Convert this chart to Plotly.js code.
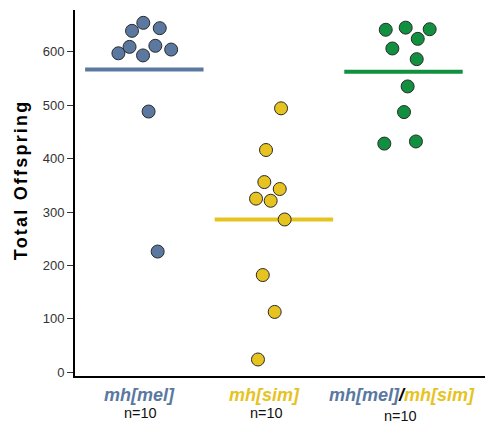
<!DOCTYPE html>
<html>
<head>
<meta charset="utf-8">
<script src="https://cdn.plot.ly/plotly-3.0.1.min.js"></script>
<style>
html,body{margin:0;padding:0;background:#fff;}
#chart{width:485px;height:424px;}
</style>
</head>
<body>
<div id="chart"></div>
<script>
// ---- data ----
const categories = ["mh[mel]", "mh[sim]", "mh[mel]/mh[sim]"];
const countLabels = ["n=10", "n=10", "n=10"];
const melValues = [654, 639, 644, 597, 609, 593, 611, 604, 488, 226];
const simValues = [494, 416, 356, 343, 325, 321, 286, 182, 113, 24];
const hybValues = [641, 645, 642, 624, 606, 586, 535, 487, 428, 432];
// horizontal jitter of each point (category units)
const melJitter = [-0.008, -0.095, 0.119, -0.200, -0.114, -0.010, 0.085, 0.207, 0.033, 0.103];
const simJitter = [0.055, -0.061, -0.074, 0.045, -0.138, -0.025, 0.083, -0.086, 0.006, -0.123];
const hybJitter = [-0.137, 0.017, 0.202, 0.110, -0.086, 0.102, 0.032, 0.004, -0.148, 0.096];
const yTicks = [0, 100, 200, 300, 400, 500, 600];

// ---- styles ----
const BLUE = "#5a78a0", YELLOW = "#e6c31f", GREEN = "#11913f";
const colors = [BLUE, YELLOW, GREEN];
const groups = [melValues, simValues, hybValues];
const jitters = [melJitter, simJitter, hybJitter];
const halfW = 0.457;
const mean = a => a.reduce((s, v) => s + v, 0) / a.length;

const traces = [];
groups.forEach((vals, i) => {
  const m = mean(vals);
  traces.push({
    type: "scatter", mode: "lines",
    x: [i - halfW, i + halfW], y: [m, m],
    line: {color: colors[i], width: 4},
    hoverinfo: "skip", showlegend: false
  });
});
groups.forEach((vals, i) => {
  traces.push({
    type: "scatter", mode: "markers",
    x: vals.map((v, k) => i + jitters[i][k]), y: vals,
    marker: {size: 13, color: colors[i], line: {color: "#2b2b2b", width: 1}},
    showlegend: false
  });
});

const span = (c, t) => `<span style="color:${c}">${t}</span>`;
const labelHtml = [
  `<b><i>${span(BLUE, categories[0])}</i></b>`,
  `<b><i>${span(YELLOW, categories[1])}</i></b>`,
  (() => { const p = categories[2].split("/"); return `<b><i>${span(BLUE, p[0])}/${span(YELLOW, p[1])}</i></b>`; })()
];
const labelX = [-0.035, 0.924, 1.988];
const countX = [-0.033, 0.944, 1.979];
const countY = [-0.101, -0.101, -0.109];

const annotations = [];
labelHtml.forEach((t, i) => annotations.push({
  xref: "x", yref: "paper", x: labelX[i], y: -0.052,
  xanchor: "center", yanchor: "middle", showarrow: false, text: t,
  font: {family: "Liberation Sans, Arial, sans-serif", size: 18, color: "#000"}
}));
countLabels.forEach((t, i) => annotations.push({
  xref: "x", yref: "paper", x: countX[i], y: countY[i],
  xanchor: "center", yanchor: "middle", showarrow: false, text: t,
  font: {family: "Liberation Sans, Arial, sans-serif", size: 14.5, color: "#111"}
}));
annotations.push({
  xref: "paper", yref: "paper", x: -0.132, y: 0.536,
  xanchor: "center", yanchor: "middle", showarrow: false, textangle: -90,
  text: "Total Offspring",
  font: {family: "Liberation Sans, Arial, sans-serif", size: 18, color: "#000", weight: "bold"}
});

const layout = {
  width: 485, height: 424,
  margin: {l: 75, r: 0, t: 10, b: 48},
  paper_bgcolor: "#fff", plot_bgcolor: "#fff",
  showlegend: false,
  xaxis: {
    range: [-0.535, 2.629], showgrid: false, zeroline: false,
    showticklabels: false, ticks: "", showline: true,
    linecolor: "#000", linewidth: 2
  },
  yaxis: {
    range: [-6.9, 678], showgrid: false, zeroline: false,
    tickmode: "array", tickvals: yTicks, ticktext: yTicks.map(String),
    ticks: "outside", ticklen: 6, tickwidth: 1, tickcolor: "#333",
    showline: true, linecolor: "#000", linewidth: 2,
    tickfont: {family: "Liberation Sans, Arial, sans-serif", size: 13, color: "#333"}
  },
  annotations: annotations
};

Plotly.newPlot("chart", traces, layout, {displayModeBar: false, staticPlot: true}).then(() => {
  document.querySelectorAll("#chart text").forEach(el => {
    if (el.textContent === "Total Offspring") el.style.letterSpacing = "2.2px";
  });
});
</script>
</body>
</html>
